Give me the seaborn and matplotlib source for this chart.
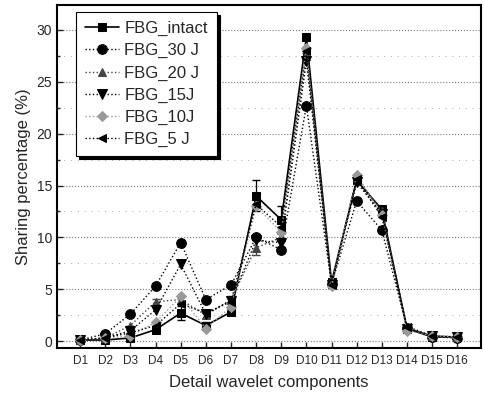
import matplotlib
matplotlib.use("Agg")
import matplotlib.pyplot as plt
import seaborn as sns
import numpy as np
import pandas as pd
from matplotlib.ticker import MultipleLocator

components = [f"D{i}" for i in range(1, 17)]
intact = [0.1, 0.1, 0.3, 1.1, 2.7, 1.5, 2.8, 14.0, 11.7, 29.3, 5.7, 15.5, 12.7, 1.2, 0.4, 0.4]
j30 = [0.1, 0.7, 2.6, 5.3, 9.5, 4.0, 5.4, 10.0, 8.8, 22.7, 5.5, 13.5, 10.7, 1.3, 0.4, 0.3]
j20 = [0.1, 0.3, 1.5, 3.8, 4.0, 2.5, 4.0, 9.0, 10.0, 27.5, 5.5, 15.8, 12.5, 1.3, 0.5, 0.4]
j15 = [0.1, 0.3, 1.0, 3.0, 7.4, 2.6, 3.9, 9.7, 9.5, 27.0, 5.4, 15.3, 12.3, 1.2, 0.5, 0.4]
j10 = [0.1, 0.3, 0.5, 1.8, 4.3, 1.2, 3.3, 13.0, 10.5, 28.3, 5.3, 16.0, 12.2, 1.0, 0.5, 0.4]
j5 = [0.1, 0.3, 0.8, 1.5, 3.6, 2.7, 3.8, 13.2, 11.0, 28.0, 5.4, 15.6, 12.0, 1.4, 0.5, 0.4]
intact_err = [0.0, 0.0, 0.0, 0.2, 0.7, 0.3, 0.3, 1.5, 1.3, 0.3, 0.3, 0.3, 0.3, 0.2, 0.0, 0.0]
j20_err = [0.0, 0.0, 0.0, 0.3, 0.3, 0.3, 0.3, 0.7, 0.3, 0.3, 0.3, 0.3, 0.3, 0.2, 0.0, 0.0]

labels = ["FBG_intact", "FBG_30 J", "FBG_20 J", "FBG_15J", "FBG_10J", "FBG_5 J"]
series = [intact, j30, j20, j15, j10, j5]
markers = ["s", "o", "^", "v", "D", "<"]
colors = ["black", "black", "#444444", "black", "#999999", "black"]
lstyles = ["-", ":", ":", ":", ":", ":"]
msizes = [6, 7, 6, 7, 5.5, 6]

sns.set_style("white")
plt.rcParams["font.family"] = ["Liberation Sans", "DejaVu Sans"]

fig = plt.figure(figsize=(4.85, 3.93), dpi=100)
ax = fig.add_axes([0.1175, 0.1145, 0.8745, 0.8725])

x = np.arange(len(components))
for i, (lab, vals) in enumerate(zip(labels, series)):
    if i == 0:
        ax.errorbar(x, vals, yerr=intact_err, fmt="none", ecolor="black", elinewidth=0.9, capsize=3, zorder=3)
    if i == 2:
        ax.errorbar(x, vals, yerr=j20_err, fmt="none", ecolor="#444444", elinewidth=0.9, capsize=3, zorder=3)
    sns.lineplot(x=x, y=vals, ax=ax, label=lab, color=colors[i], marker=markers[i],
                 linestyle=lstyles[i], linewidth=1.2 if i == 0 else 1.0,
                 markersize=msizes[i], markeredgecolor=colors[i], zorder=4 + i)

ax.set_xticks(x)
ax.set_xticklabels(components, fontsize=8.5)
ax.set_xlim(-0.92, 15.95)
ax.set_ylim(-0.67, 32.4)
ax.yaxis.set_major_locator(MultipleLocator(5))
ax.yaxis.set_minor_locator(MultipleLocator(2.5))
ax.tick_params(axis="y", which="major", direction="in", length=4, width=1, labelsize=10, left=True)
ax.tick_params(axis="y", which="minor", direction="in", length=2.5, width=1, left=True)
ax.tick_params(axis="x", which="major", direction="in", length=4, width=1, bottom=True, pad=5)
ax.grid(True, which="major", axis="y", linestyle=":", color="#777777", linewidth=0.8)
ax.grid(True, which="minor", axis="y", linestyle=(0, (1, 6)), color="#aaaaaa", linewidth=0.7)
for s in ax.spines.values():
    s.set_visible(True)
    s.set_color("black")
    s.set_linewidth(1.5)

ax.set_xlabel("Detail wavelet components", fontsize=12, labelpad=6)
ax.set_ylabel("Sharing percentage (%)", fontsize=12)

leg = ax.legend(loc="upper left", bbox_to_anchor=(0.045, 0.98), borderaxespad=0,
                fontsize=12, frameon=True,
                fancybox=False, edgecolor="black", framealpha=1,
                shadow={"color": "black", "alpha": 1}, handlelength=2.0,
                borderpad=0.55, labelspacing=0.42, handletextpad=0.35)
leg.get_frame().set_linewidth(0.8)

fig.savefig("out.png", dpi=100)
